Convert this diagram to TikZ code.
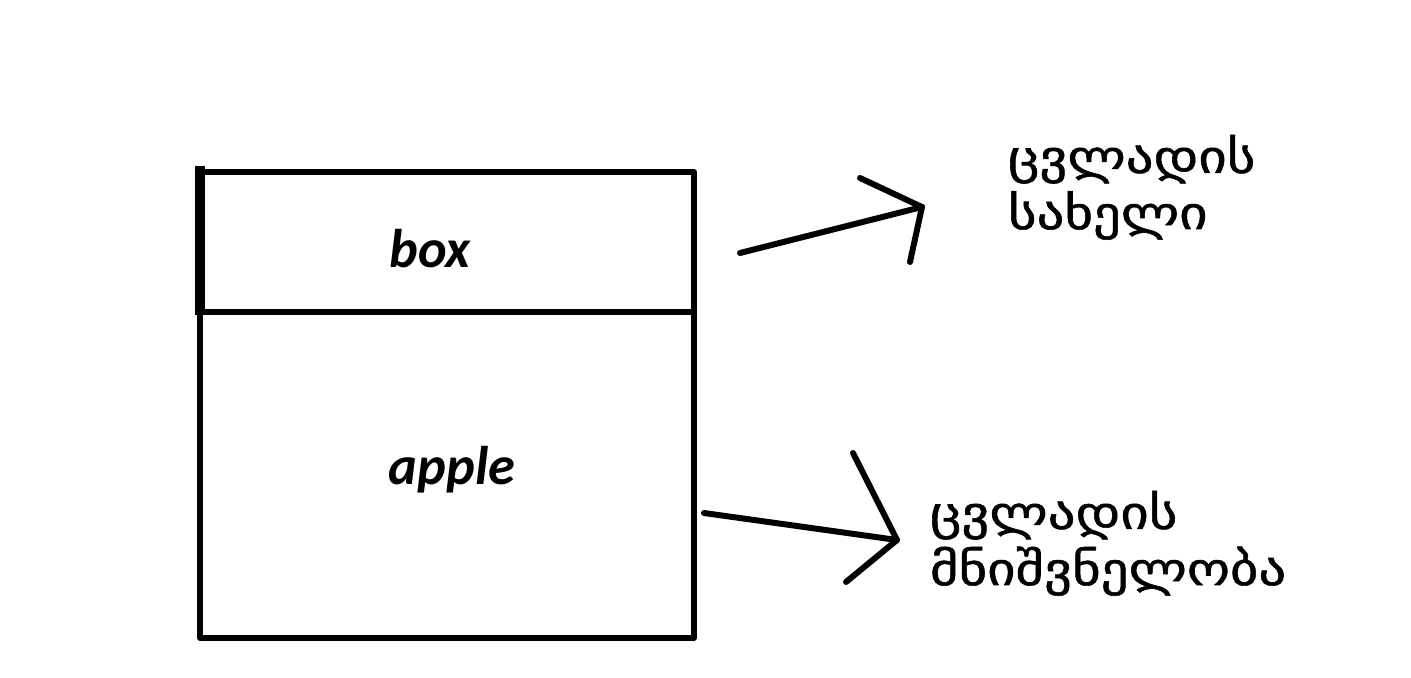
\documentclass[tikz,border=0pt]{standalone}
\usepackage{fontspec}
\setmainfont{Carlito}
\newfontfamily\geofont[FakeStretch=1.2,FakeBold=1.2]{DejaVu Sans}
\tikzset{every scope/.style={line width=3.4pt,line cap=round,line join=round}}
\tikzset{cell/.style={draw,line cap=rect,inner sep=0pt,minimum width=9.88cm},
  celltext/.style={anchor=base,font=\fontsize{31}{36}\selectfont\itshape\bfseries},
  georgian/.style={anchor=base west,align=left,inner sep=0pt,font=\geofont\fontsize{26}{32}\selectfont}}

\begin{document}
\begin{tikzpicture}[x=0.02cm,y=-0.02cm]
  \useasboundingbox (0,0) rectangle (1411,678);
  \begin{scope}
    \node[cell,minimum height=6.52cm] (valuecell) at (447,475) {};
    \node[cell,minimum height=2.8cm] (namecell) at (447,242) {};
    \draw[line width=5.7pt,line cap=butt] ([xshift=0.06cm,yshift=0.06cm]namecell.north west) -- ([xshift=0.06cm]namecell.south west);
    \node[celltext] (nametext) at (430,268) {box};
    \node[celltext] (valuetext) at (452,485) {apple};
    \node[georgian] (namelabel) at (1005,229) {ცვლადის\\სახელი};
    \node[georgian] (valuelabel) at (927,585) {ცვლადის\\მნიშვნელობა};
    \coordinate (n1) at (740,253);
    \coordinate (n2) at (922,207);
    \coordinate (v1) at (704,513);
    \coordinate (v2) at (897,540);
    \draw (n1) -- (n2);
    \draw (n2) ++(-62,-29) -- (n2) -- ++(-12,55);
    \draw (v1) -- (v2);
    \draw (v2) ++(-44,-87) -- (v2) -- ++(-51,42);
  \end{scope}
\end{tikzpicture}
\end{document}
